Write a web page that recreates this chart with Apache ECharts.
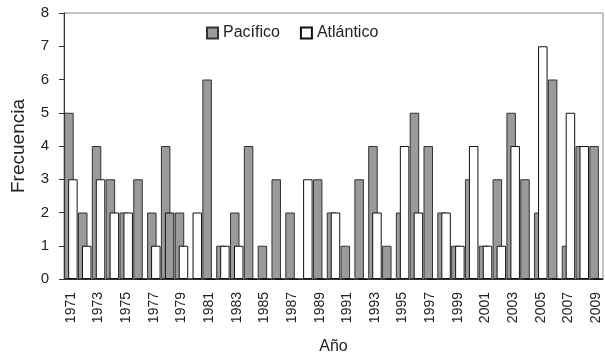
<!DOCTYPE html>
<html>
<head>
<meta charset="utf-8">
<script src="https://cdn.jsdelivr.net/npm/echarts@6/dist/echarts.min.js"></script>
<style>
  html, body { margin: 0; padding: 0; background: #fff; }
  #chart { width: 605px; height: 358px; }
</style>
</head>
<body>
<div id="chart"></div>
<script>
var years = ['1971', '1972', '1973', '1974', '1975', '1976', '1977', '1978', '1979', '1980',
  '1981', '1982', '1983', '1984', '1985', '1986', '1987', '1988', '1989', '1990',
  '1991', '1992', '1993', '1994', '1995', '1996', '1997', '1998', '1999', '2000',
  '2001', '2002', '2003', '2004', '2005', '2006', '2007', '2008', '2009']

var pacifico = [5, 2, 4, 3, 2, 3, 2, 4, 2, 0,
  6, 1, 2, 4, 1, 3, 2, 0, 3, 2,
  1, 3, 4, 1, 2, 5, 4, 2, 1, 3,
  1, 3, 5, 3, 2, 6, 1, 4, 4]

var atlantico = [3, 1, 3, 2, 2, 0, 1, 2, 1, 2,
  0, 1, 1, 0, 0, 0, 0, 3, 0, 2,
  0, 0, 2, 0, 4, 2, 0, 2, 1, 4,
  1, 1, 4, 0, 7, 0, 5, 4, 0]

var seriesNames = ['Pacífico', 'Atlántico']

var chart = echarts.init(document.getElementById('chart'))

var textColor = '#222'
var fontFamily = 'Liberation Sans, Arial, sans-serif'

// in the original the 1978 Atlántico bar is drawn in gray
var atlData = atlantico.map(function(v, i) {
  if (years[i] === '1978') {
    return { value: v, itemStyle: { color: '#9a9a9a' } }
  }
  return v
})

chart.setOption({
  animation: false,
  textStyle: { fontFamily: fontFamily },
  legend: {
    data: seriesNames,
    top: 20,
    left: 201,
    itemWidth: 11,
    itemHeight: 11,
    itemGap: 20,
    icon: 'rect',
    textStyle: { fontSize: 16, color: textColor, fontFamily: fontFamily }
  },
  grid: {
    left: 64,
    right: 2,
    top: 13,
    bottom: 79,
    containLabel: false,
    outerBoundsMode: 'none',
    show: true,
    borderColor: '#888',
    borderWidth: 1
  },
  xAxis: {
    type: 'category',
    data: years,
    name: 'Año',
    nameLocation: 'middle',
    nameGap: 60,
    nameTextStyle: { fontSize: 16, color: textColor },
    axisLine: { lineStyle: { color: '#333', width: 1 } },
    axisTick: { interval: 0, length: 6, lineStyle: { color: '#333' } },
    axisLabel: {
      interval: 1,
      rotate: 90,
      fontSize: 14,
      color: textColor,
      margin: 13
    }
  },
  yAxis: {
    type: 'value',
    min: 0,
    max: 8,
    interval: 1,
    name: 'Frecuencia',
    nameLocation: 'middle',
    nameGap: 36,
    nameTextStyle: { fontSize: 19, color: textColor },
    splitLine: { show: false },
    axisLine: { show: true, lineStyle: { color: '#333', width: 1 } },
    axisTick: { show: true, length: 5, lineStyle: { color: '#333' } },
    axisLabel: { fontSize: 15, color: textColor, margin: 15 }
  },
  series: [
    {
      name: seriesNames[0],
      type: 'bar',
      data: pacifico,
      barWidth: 9.5,
      barGap: '-58%',
      itemStyle: { color: '#9a9a9a', borderColor: '#333', borderWidth: 1 }
    },
    {
      name: seriesNames[1],
      type: 'bar',
      data: atlData,
      barWidth: 9.5,
      itemStyle: { color: '#ffffff', borderColor: '#111', borderWidth: 1 }
    }
  ]
})
</script>
</body>
</html>
